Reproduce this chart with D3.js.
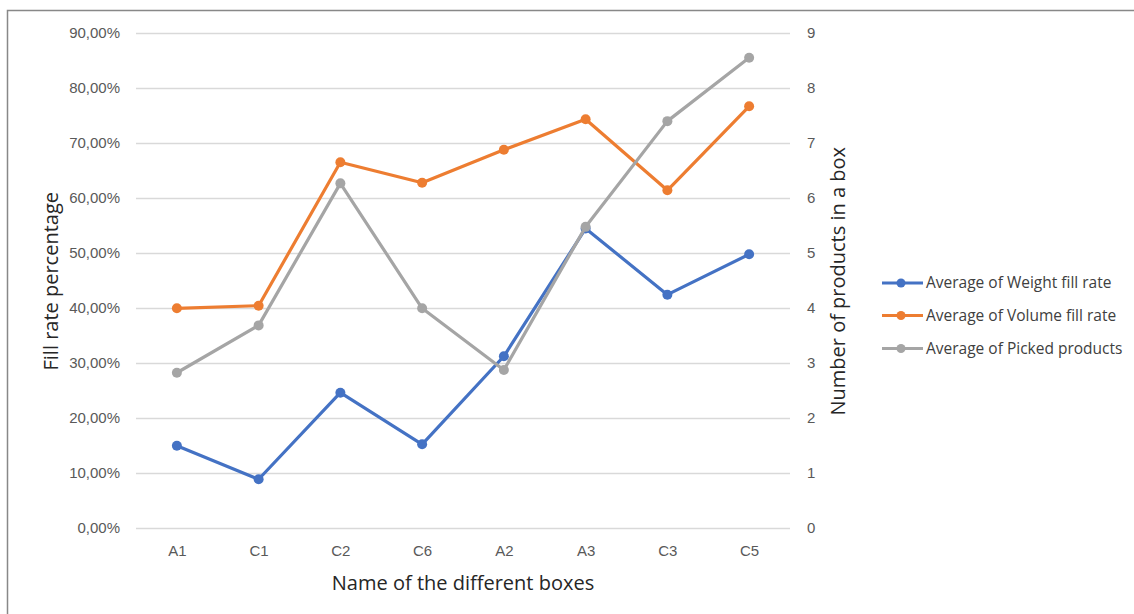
<!DOCTYPE html>
<html>
<head>
<meta charset="utf-8">
<script src="https://cdn.jsdelivr.net/npm/d3@7"></script>
<style>
  html, body { margin: 0; padding: 0; background: #fff; }
  svg { display: block; font-family: "Open Sans", "Noto Sans", sans-serif; }
</style>
</head>
<body>
<svg id="chart" width="1134" height="614"></svg>
<script>
// Box categories along the x axis
const boxes = ["A1", "C1", "C2", "C6", "A2", "A3", "C3", "C5"];

// Fill rates (percent, left axis)
const weightFill = [14.95, 8.85, 24.58, 15.20, 31.19, 54.40, 42.38, 49.71];
const volumeFill = [39.90, 40.38, 66.42, 62.72, 68.71, 74.23, 61.34, 76.60];

// Picked products per box (count, right axis)
const pickedProducts = [2.82, 3.68, 6.26, 3.99, 2.87, 5.47, 7.39, 8.54];

// Axis ticks
const leftTicks = [0, 10, 20, 30, 40, 50, 60, 70, 80, 90];
const rightTicks = [0, 1, 2, 3, 4, 5, 6, 7, 8, 9];

const seriesNames = ["Average of Weight fill rate", "Average of Volume fill rate", "Average of Picked products"];
const seriesColors = ["#4472C4", "#ED7D31", "#A5A5A5"];

const svg = d3.select("#chart");

const plot = { left: 136, right: 790, top: 32.5, bottom: 528 };

const x = d3.scalePoint().domain(boxes).range([plot.left, plot.right]).padding(0.5);
const yLeft = d3.scaleLinear().domain([0, 90]).range([plot.bottom, plot.top]);
const yRight = d3.scaleLinear().domain([0, 9]).range([plot.bottom, plot.top]);

// Outer frame (left and top edges visible)
svg.append("path")
  .attr("d", "M7.5,614 L7.5,10.5 L1134,10.5")
  .attr("fill", "none")
  .attr("stroke", "#888")
  .attr("stroke-width", 1.5);

// Horizontal gridlines
svg.append("g")
  .selectAll("line")
  .data(leftTicks)
  .join("line")
  .attr("x1", plot.left)
  .attr("x2", plot.right)
  .attr("y1", d => Math.round(yLeft(d)) + 0.5)
  .attr("y2", d => Math.round(yLeft(d)) + 0.5)
  .attr("stroke", "#d9d9d9")
  .attr("stroke-width", 1.3);

// Left axis labels
const fmtPct = v => v.toFixed(2).replace(".", ",") + "%";
const leftAxis = d3.axisLeft(yLeft).tickValues(leftTicks).tickFormat(fmtPct).tickSize(0).tickPadding(0);
svg.append("g")
  .attr("transform", `translate(120,0)`)
  .call(leftAxis)
  .call(g => g.select(".domain").remove())
  .call(g => g.selectAll("text").attr("fill", "#595959").attr("font-size", 15));

// Right axis labels
const rightAxis = d3.axisRight(yRight).tickValues(rightTicks).tickFormat(d3.format("d")).tickSize(0).tickPadding(0);
svg.append("g")
  .attr("transform", `translate(807,0)`)
  .call(rightAxis)
  .call(g => g.select(".domain").remove())
  .call(g => g.selectAll("text").attr("fill", "#595959").attr("font-size", 15));

// Category axis labels
const bottomAxis = d3.axisBottom(x).tickSize(0).tickPadding(0);
svg.append("g")
  .attr("transform", `translate(0,545)`)
  .call(bottomAxis)
  .call(g => g.select(".domain").remove())
  .call(g => g.selectAll("text").attr("fill", "#595959").attr("font-size", 15));

// Axis titles
svg.append("text")
  .attr("transform", `translate(58,${(plot.top + plot.bottom) / 2 + 1}) rotate(-90)`)
  .attr("text-anchor", "middle")
  .attr("fill", "#262626")
  .attr("font-size", 20)
  .text("Fill rate percentage");

svg.append("text")
  .attr("transform", `translate(845,${(plot.top + plot.bottom) / 2 + 1}) rotate(-90)`)
  .attr("text-anchor", "middle")
  .attr("fill", "#262626")
  .attr("font-size", 20)
  .text("Number of products in a box");

svg.append("text")
  .attr("x", (plot.left + plot.right) / 2)
  .attr("y", 590)
  .attr("text-anchor", "middle")
  .attr("fill", "#262626")
  .attr("font-size", 20)
  .text("Name of the different boxes");

// Series lines and markers
const series = [
  { values: weightFill, y: yLeft, color: seriesColors[0] },
  { values: volumeFill, y: yLeft, color: seriesColors[1] },
  { values: pickedProducts, y: yRight, color: seriesColors[2] }
];

const lineGroup = svg.append("g");
series.forEach(s => {
  const pts = boxes.map((b, i) => [x(b), s.y(s.values[i])]);
  lineGroup.append("path")
    .attr("d", d3.line()(pts))
    .attr("fill", "none")
    .attr("stroke", s.color)
    .attr("stroke-width", 3.2)
    .attr("stroke-linejoin", "round")
    .attr("stroke-linecap", "round");
  lineGroup.append("g")
    .selectAll("circle")
    .data(pts)
    .join("circle")
    .attr("cx", d => d[0])
    .attr("cy", d => d[1])
    .attr("r", 5)
    .attr("fill", s.color);
});

// Legend
const legend = svg.append("g");
const legendRows = [283, 315.5, 348.5];
seriesNames.forEach((name, i) => {
  const row = legend.append("g").attr("transform", `translate(0,${legendRows[i]})`);
  row.append("line")
    .attr("x1", 882).attr("x2", 923)
    .attr("y1", 0).attr("y2", 0)
    .attr("stroke", seriesColors[i])
    .attr("stroke-width", 3.2);
  row.append("circle")
    .attr("cx", 901).attr("cy", 0).attr("r", 4.5)
    .attr("fill", seriesColors[i]);
  row.append("text")
    .attr("x", 926)
    .attr("y", 0)
    .attr("dy", "0.35em")
    .attr("fill", "#404040")
    .attr("font-size", 15.5)
    .text(name);
});
</script>
</body>
</html>
